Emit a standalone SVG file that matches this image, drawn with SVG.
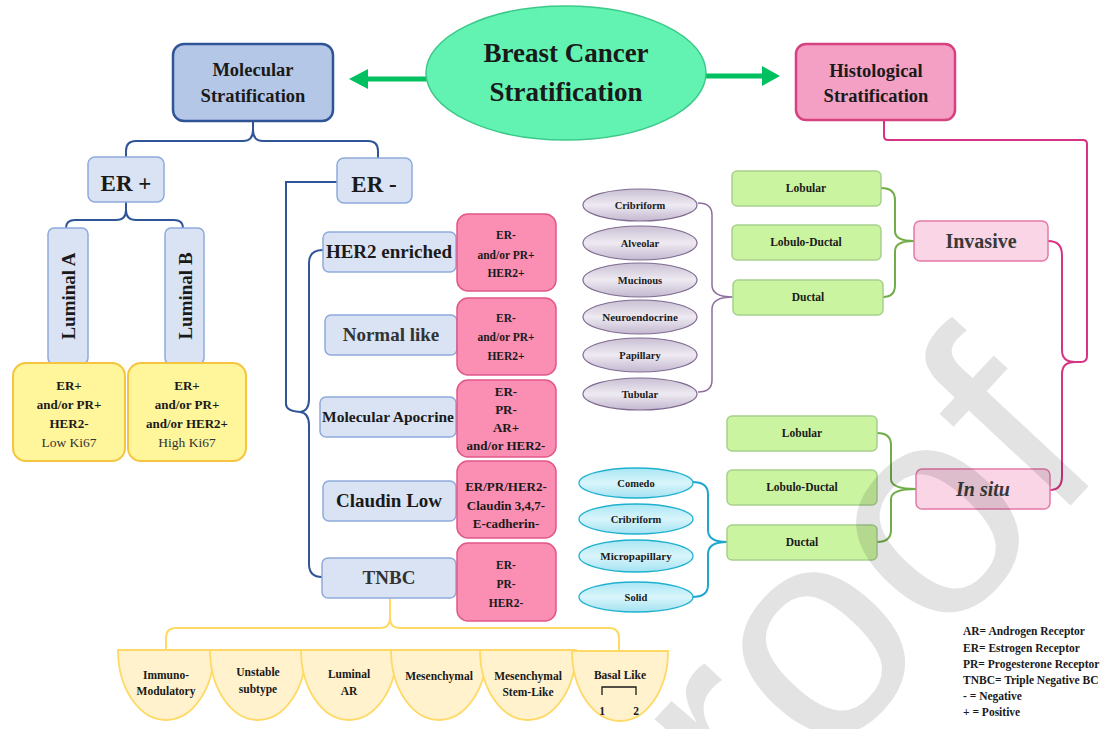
<svg xmlns="http://www.w3.org/2000/svg" width="1119" height="729" viewBox="0 0 1119 729">
<defs>
<style>
text{font-family:"Liberation Serif","Times New Roman",serif;font-weight:bold;fill:#1a1a1a;text-anchor:middle}
.mol{fill:#b4c7e7;stroke:#2f5597;stroke-width:2.5}
.his{fill:#f3a0c4;stroke:#d6417f;stroke-width:2.5}
.lb{fill:#dae3f3;stroke:#8faadc;stroke-width:1.5}
.pk{fill:#fb8fb3;stroke:#e2578a;stroke-width:1.5}
.yl{fill:#fff59a;stroke:#f6c540;stroke-width:2}
.gr{fill:#cbf4a0;stroke:#a8d08d;stroke-width:1.5}
.ip{fill:#f9d5e5;stroke:#e57aa9;stroke-width:1.5}
.pu{fill:url(#pug);stroke:#7f6b91;stroke-width:1.2}
.bl{fill:url(#blg);stroke:#1fb0d0;stroke-width:1.3}
.sc{fill:#fff2cc;stroke:#ffd966;stroke-width:1.8}
.c{fill:none;stroke-width:2}
.cb{stroke:#2f5597}
.cp{stroke:#d63384}
.cg{stroke:#70ad47}
.cu{stroke:#8e6f9e;stroke-width:1.5}
.cc{stroke:#1fa8cc}
.cy{stroke:#ffd966}
.s11{font-size:11.5px}
.s13{font-size:13px}
.s19{font-size:19px}
</style>
<linearGradient id="pug" x1="0" y1="0" x2="0" y2="1"><stop offset="0" stop-color="#c9bfd3"/><stop offset="0.5" stop-color="#eeeaf2"/><stop offset="1" stop-color="#c3b8cf"/></linearGradient>
<linearGradient id="blg" x1="0" y1="0" x2="0" y2="1"><stop offset="0" stop-color="#a9e6f4"/><stop offset="0.5" stop-color="#d9f5fb"/><stop offset="1" stop-color="#a4e2f2"/></linearGradient>
</defs>
<rect width="1119" height="729" fill="#fff"/>

<g id="connectors">
<line x1="430" y1="79" x2="365" y2="79" stroke="#00c060" stroke-width="5"/>
<polygon points="349,79 368,69 368,89" fill="#00c060"/>
<line x1="704" y1="76" x2="764" y2="76" stroke="#00c060" stroke-width="5"/>
<polygon points="780,76 762,66 762,86" fill="#00c060"/>
<path class="c cb" d="M253,121 V130 Q253,141 243,141 H136 Q126,141 126,151 V157 M253,121 V130 Q253,141 263,141 H368 Q378,141 378,151 V158"/>
<path class="c cb" d="M126,202 V210 Q126,220 116,220 H75 Q66,220 66,228 M126,202 V210 Q126,220 136,220 H174 Q183,220 183,228"/>
<path class="c cb" d="M337,182 H286 V404 Q286,411 300,412"/>
<path class="c cb" d="M323,250 Q309,250 309,263 V399 Q309,411 300,412 Q309,413 309,425 V564 Q309,577 322,577"/>
<path class="c cy" d="M390,598 V618 Q390,628 380,628 H176 Q166,628 166,638 V650 M390,598 V618 Q390,628 400,628 H609 Q619,628 619,638 V651"/>
<path class="c cp" d="M884,119 V136 Q884,140 888,140 H1083 Q1087,140 1087,144 V356 Q1087,362 1081,362 H1075"/>
<path class="c cp" d="M1048,241 Q1062,241 1062,255 V350 Q1062,362 1075,362 Q1062,362 1062,374 V476 Q1062,490 1050,490"/>
<path class="c cg" d="M881,188 Q895,188 895,200 V231 Q895,241 914,241 M883,297 Q895,297 895,285 V251 Q895,241 914,241"/>
<path class="c cg" d="M877,433 Q891,433 891,445 V479 Q891,489 916,489 M877,542 Q891,542 891,530 V499 Q891,489 916,489"/>
<path class="c cu" d="M698,203 Q712,203 712,215 V285 Q712,297 733,297 M698,392 Q712,392 712,380 V309 Q712,297 733,297"/>
<path class="c cc" d="M692,482 Q708,482 708,494 V530 Q708,542 727,542 M692,597 Q708,597 708,585 V554 Q708,542 727,542"/>
</g>

<g id="n-root"><ellipse cx="566" cy="73" rx="140" ry="67" fill="#62f3b2" stroke="#3cc98a" stroke-width="1.5"/>
<text x="566" y="62" style="font-size:27px">Breast Cancer</text><text x="566" y="101" style="font-size:27px">Stratification</text></g>

<g id="n-mol"><rect class="mol" x="173" y="44" width="160" height="77" rx="11"/>
<text class="s19" x="253" y="76" style="font-size:18.5px">Molecular</text><text class="s19" x="253" y="102" style="font-size:18.5px">Stratification</text></g>

<g id="n-his"><rect class="his" x="796" y="44" width="159" height="76" rx="10"/>
<text x="876" y="77" style="font-size:18.5px">Histological</text><text x="876" y="102" style="font-size:18.5px">Stratification</text></g>

<g id="n-erp"><rect class="lb" x="88" y="157" width="76" height="45" rx="7"/><text x="126" y="191" style="font-size:23px">ER +</text></g>
<g id="n-ern"><rect class="lb" x="337" y="158" width="75" height="45" rx="7"/><text x="374" y="192" style="font-size:23px">ER -</text></g>

<g id="n-luma"><rect class="lb" x="48" y="228" width="40" height="136" rx="6"/><text class="s19" transform="translate(75,296) rotate(-90)">Luminal A</text></g>
<g id="n-lumb"><rect class="lb" x="165" y="228" width="39" height="136" rx="6"/><text class="s19" transform="translate(192,296) rotate(-90)">Luminal B</text></g>

<g id="n-luma-d"><rect class="yl" x="13" y="363" width="112" height="98" rx="13"/>
<text class="s13" x="69" y="390">ER+</text><text class="s13" x="69" y="409">and/or PR+</text><text class="s13" x="69" y="428">HER2-</text><text x="69" y="447" style="font-size:13.5px;font-weight:normal;fill:#333">Low Ki67</text></g>
<g id="n-lumb-d"><rect class="yl" x="128" y="363" width="118" height="98" rx="13"/>
<text class="s13" x="187" y="390">ER+</text><text class="s13" x="187" y="409">and/or PR+</text><text class="s13" x="187" y="428">and/or HER2+</text><text x="187" y="447" style="font-size:13.5px;font-weight:normal;fill:#333">High Ki67</text></g>

<g id="n-her2"><rect class="lb" x="323" y="232" width="133" height="40" rx="6"/><text class="s19" x="389" y="258">HER2 enriched</text></g>
<g id="n-norm"><rect class="lb" x="325" y="315" width="132" height="40" rx="6"/><text class="s19" x="391" y="341" style="fill:#333">Normal like</text></g>
<g id="n-apo"><rect class="lb" x="320" y="397" width="136" height="40" rx="6"/><text x="388" y="422" style="font-size:15.5px">Molecular Apocrine</text></g>
<g id="n-cla"><rect class="lb" x="323" y="481" width="133" height="40" rx="6"/><text class="s19" x="389" y="507">Claudin Low</text></g>
<g id="n-tnbc"><rect class="lb" x="322" y="558" width="134" height="40" rx="6"/><text class="s19" x="389" y="584" style="fill:#333">TNBC</text></g>

<g id="n-her2-d"><rect class="pk" x="457" y="214" width="99" height="77" rx="11"/>
<text class="s11" x="506" y="239">ER-</text><text class="s11" x="506" y="259">and/or PR+</text><text class="s11" x="506" y="277">HER2+</text></g>
<g id="n-norm-d"><rect class="pk" x="457" y="298" width="99" height="77" rx="11"/>
<text class="s11" x="506" y="322">ER-</text><text class="s11" x="506" y="341">and/or PR+</text><text class="s11" x="506" y="360">HER2+</text></g>
<g id="n-apo-d"><rect class="pk" x="457" y="380" width="99" height="77" rx="11"/>
<text class="s13" x="506" y="396">ER-</text><text class="s13" x="506" y="414">PR-</text><text class="s13" x="506" y="432">AR+</text><text class="s13" x="506" y="450">and/or HER2-</text></g>
<g id="n-cla-d"><rect class="pk" x="457" y="461" width="99" height="77" rx="11"/>
<text class="s13" x="506" y="491">ER/PR/HER2-</text><text class="s13" x="506" y="510">Claudin 3,4,7-</text><text class="s13" x="506" y="528">E-cadherin-</text></g>
<g id="n-tnbc-d"><rect class="pk" x="457" y="543" width="99" height="78" rx="11"/>
<text class="s11" x="506" y="569">ER-</text><text class="s11" x="506" y="588">PR-</text><text class="s11" x="506" y="607">HER2-</text></g>

<g id="n-sub1"><path class="sc" d="M118,650 A48,70 0 0 0 214,650 Z"/><text class="s11" x="166" y="679">Immuno-</text><text class="s11" x="166" y="695">Modulatory</text></g>
<g id="n-sub2"><path class="sc" d="M210,650 A48,70 0 0 0 306,650 Z"/><text class="s11" x="258" y="676">Unstable</text><text class="s11" x="258" y="693">subtype</text></g>
<g id="n-sub3"><path class="sc" d="M301,650 A48,70 0 0 0 397,650 Z"/><text class="s11" x="349" y="678">Luminal</text><text class="s11" x="349" y="695">AR</text></g>
<g id="n-sub4"><path class="sc" d="M391,650 A48,70 0 0 0 487,650 Z"/><text class="s11" x="439" y="680">Mesenchymal</text></g>
<g id="n-sub5"><path class="sc" d="M480,650 A48,70 0 0 0 576,650 Z"/><text class="s11" x="528" y="680">Mesenchymal</text><text class="s11" x="528" y="696">Stem-Like</text></g>
<g id="n-sub6"><path class="sc" d="M572,651 A48,70 0 0 0 668,651 Z"/><text class="s11" x="620" y="679">Basal Like</text>
<path d="M602,695 V687 H636 V695" fill="none" stroke="#1a1a1a" stroke-width="1.3"/><text class="s11" x="602" y="715">1</text><text class="s11" x="636" y="715">2</text></g>

<g id="n-inv-e">
<ellipse class="pu" cx="640" cy="205" rx="57" ry="16"/><text x="640" y="209" style="font-size:10.5px">Cribriform</text>
<ellipse class="pu" cx="640" cy="243" rx="57" ry="17"/><text x="640" y="247" style="font-size:10.5px">Alveolar</text>
<ellipse class="pu" cx="640" cy="280" rx="57" ry="17"/><text x="640" y="284" style="font-size:10.5px">Mucinous</text>
<ellipse class="pu" cx="640" cy="317" rx="57" ry="17"/><text x="640" y="321" style="font-size:11px">Neuroendocrine</text>
<ellipse class="pu" cx="640" cy="355" rx="57" ry="17"/><text x="640" y="359" style="font-size:10.5px">Papillary</text>
<ellipse class="pu" cx="640" cy="394" rx="57" ry="16"/><text x="640" y="398" style="font-size:10.5px">Tubular</text>
</g>

<g id="n-situ-e">
<ellipse class="bl" cx="636" cy="483" rx="57" ry="15"/><text x="636" y="487" style="font-size:10.5px">Comedo</text>
<ellipse class="bl" cx="636" cy="519" rx="57" ry="15"/><text x="636" y="523" style="font-size:10.5px">Cribriform</text>
<ellipse class="bl" cx="636" cy="556" rx="57" ry="16"/><text x="636" y="560" style="font-size:11px">Micropapillary</text>
<ellipse class="bl" cx="636" cy="597" rx="57" ry="15"/><text x="636" y="601" style="font-size:10.5px">Solid</text>
</g>

<g id="n-inv-g">
<rect class="gr" x="732" y="171" width="149" height="35" rx="5"/><text class="s11" x="806" y="192">Lobular</text>
<rect class="gr" x="732" y="225" width="149" height="35" rx="5"/><text class="s11" x="806" y="246">Lobulo-Ductal</text>
<rect class="gr" x="733" y="280" width="150" height="35" rx="5"/><text class="s11" x="808" y="301">Ductal</text>
</g>
<g id="n-inv"><rect class="ip" x="914" y="221" width="134" height="40" rx="6"/><text x="981" y="248" style="font-size:20px;fill:#3a3a3a">Invasive</text></g>

<g id="n-situ-g">
<rect class="gr" x="727" y="416" width="150" height="35" rx="5"/><text class="s11" x="802" y="437">Lobular</text>
<rect class="gr" x="727" y="470" width="150" height="35" rx="5"/><text class="s11" x="802" y="491">Lobulo-Ductal</text>
<rect class="gr" x="727" y="525" width="150" height="35" rx="5"/><text class="s11" x="802" y="546">Ductal</text>
</g>
<g id="n-situ"><rect class="ip" x="916" y="469" width="134" height="40" rx="6"/><text x="983" y="496" style="font-size:20px;font-style:italic;fill:#3a3a3a">In situ</text></g>

<g id="legend" style="font-size:11.5px">
<text x="963" y="635" style="text-anchor:start">AR= Androgen Receptor</text>
<text x="963" y="652" style="text-anchor:start">ER= Estrogen Receptor</text>
<text x="963" y="668" style="text-anchor:start">PR= Progesterone Receptor</text>
<text x="963" y="684" style="text-anchor:start">TNBC= Triple Negative BC</text>
<text x="963" y="700" style="text-anchor:start">- = Negative</text>
<text x="963" y="716" style="text-anchor:start">+ = Positive</text>
</g>

<text x="643" y="964" transform="rotate(-47 643 964)" style="font-family:'Liberation Sans',Arial,sans-serif;font-weight:normal;font-size:300px;text-anchor:start;fill:#000;fill-opacity:0.11">proof</text>
</svg>
